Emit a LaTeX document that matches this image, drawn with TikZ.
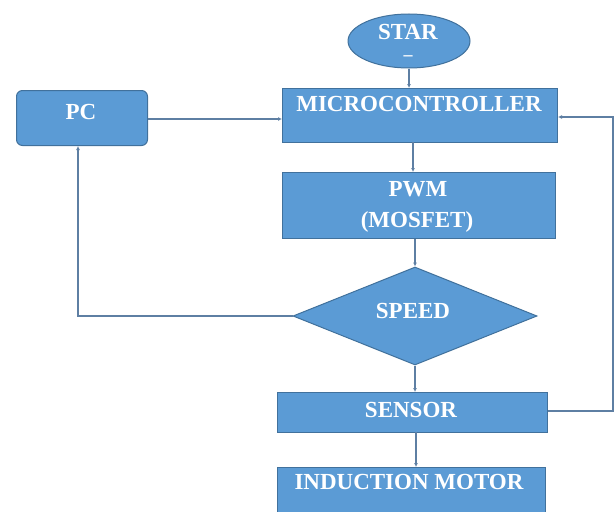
\documentclass[tikz,border=0pt]{standalone}
\usepackage{fontspec}
\setmainfont{Liberation Serif}
\usetikzlibrary{shapes.geometric,arrows.meta}
\definecolor{boxfill}{HTML}{5B9BD5}
\definecolor{boxline}{HTML}{41719C}
\definecolor{conn}{HTML}{5E7FA3}
\tikzset{
  blk/.style={draw=boxline, line width=1pt, fill=boxfill, text=white, inner sep=0pt},
  rectbox/.style={blk, rectangle, anchor=north west},
  conn/.style={draw=conn, line width=1.1pt, -{Latex[length=4pt,width=4pt]}},
  lbl/.style={text=white, font=\fontsize{23}{25}\selectfont\bfseries, inner sep=0pt}
}
\begin{document}
\begin{tikzpicture}[x=1pt,y=-1pt]
\useasboundingbox (0,0) rectangle (615,511);
% STAR
\node[blk, ellipse, minimum width=122pt, minimum height=54pt] (star) at (409,41) {};
\node[lbl] (starT) at (408,32) {STAR};
\node[lbl, font=\fontsize{18}{20}\selectfont\bfseries] (starD) at (408,58) {--};
% MICRO
\node[rectbox, minimum width=275pt, minimum height=54pt] (micro) at (282,88) {};
\node[lbl] (microT) at (419,104) {MICROCONTROLLER};
% PC
\node[blk, rectangle, rounded corners=6pt, minimum width=131pt, minimum height=55pt, anchor=north west] (pc) at (16,90) {};
\node[lbl] (pcT) at (81,112) {PC};
% PWM
\node[rectbox, minimum width=273pt, minimum height=66pt] (pwm) at (282,172) {};
\node[lbl] (pwmT) at (418,189) {PWM};
\node[lbl] (mosT) at (417,222) {(MOSFET)};
% SPEED
\node[blk, diamond, aspect=2.5, minimum width=244pt, minimum height=98pt] (speed) at (415,316) {};
\node[lbl] (speedT) at (413,311) {SPEED};
% SENSOR
\node[rectbox, minimum width=270pt, minimum height=40pt] (sensor) at (277,392) {};
\node[lbl] (sensorT) at (411,410) {SENSOR};
% MOTOR
\node[rectbox, minimum width=268pt, minimum height=50pt] (motor) at (277,467) {};
\node[lbl] (motorT) at (409,482) {INDUCTION MOTOR};
% connectors
\coordinate (r1) at (613,411);
\coordinate (r2) at (613,117);
\coordinate (l1) at (78,316);
\draw[conn] (star.south) -- (star.south |- micro.north);
\draw[conn] (413,142) -- (413,172);
\draw[conn] (speed.north |- pwm.south) -- (speed.north);
\draw[conn] (speed.south) -- (speed.south |- sensor.north);
\draw[conn] (416,432) -- (416,467);
\draw[conn] (pc.east |- 0,119) -- (micro.west |- 0,119);
\draw[conn] (speed.west) -- (l1) -- (l1 |- pc.south);
\draw[conn] (sensor.east |- r1) -- (r1) -- (r2) -- (micro.east |- r2);
\end{tikzpicture}
\end{document}
